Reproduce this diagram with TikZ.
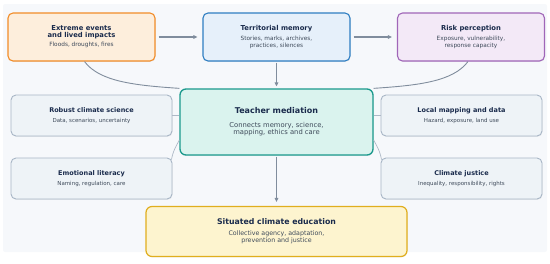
\documentclass[tikz,border=0pt]{standalone}
\usepackage{fontspec}
\setmainfont{DejaVu Sans}
\usepackage{tikz}
\usetikzlibrary{arrows.meta, shadows}

\definecolor{panel}{HTML}{F6F8FB}
\definecolor{titleink}{HTML}{1A2B4C}
\definecolor{subink}{HTML}{3E4A5A}
\definecolor{arrowink}{HTML}{808D9D}
\definecolor{faintink}{HTML}{AEB9C7}
\definecolor{orangeline}{HTML}{F28C28}
\definecolor{orangefill}{HTML}{FDEEDC}
\definecolor{blueline}{HTML}{2E7EC2}
\definecolor{bluefill}{HTML}{E6F0FA}
\definecolor{purpleline}{HTML}{A066B8}
\definecolor{purplefill}{HTML}{F3E9F7}
\definecolor{tealline}{HTML}{1A998C}
\definecolor{tealfill}{HTML}{DAF3EE}
\definecolor{grayline}{HTML}{A8B6C6}
\definecolor{grayfill}{HTML}{EEF3F7}
\definecolor{yellowline}{HTML}{E0AE1E}
\definecolor{yellowfill}{HTML}{FDF4CF}

\newcommand\hd[1]{{\fontsize{\hdsz}{\hdsz}\selectfont\bfseries\color{titleink}#1}}

\tikzset{
  card/.style={rounded corners=5pt, line width=1.1pt, inner sep=0pt, align=center,
    text=subink, drop shadow={shadow xshift=0.5pt, shadow yshift=-0.9pt, opacity=0.12}},
  topbox/.style={card, minimum width=147pt, minimum height=48pt,
    font=\fontsize{5.8}{6.4}\selectfont, execute at begin node=\def\hdsz{6.8}},
  sidebox/.style={card, draw=grayline, fill=grayfill, line width=0.9pt,
    minimum width=161pt, minimum height=41pt,
    font=\fontsize{5.5}{6.4}\selectfont, execute at begin node=\def\hdsz{6.5}},
  flow/.style={draw=arrowink, line width=1.1pt, -{Triangle[length=4pt,width=3.6pt]}},
  link/.style={draw=arrowink, line width=0.9pt},
  faint/.style={draw=faintink, line width=0.7pt}
}

\begin{document}
\begin{tikzpicture}[x=1pt, y=-1pt]
  \useasboundingbox (0,0) rectangle (550,263);
  \fill[panel, rounded corners=2pt] (3,4) rectangle (547,252);

  % top row: events, memory, perception
  \node[topbox, draw=orangeline, fill=orangefill] (extreme) at (81.5,37)
    {\hd{Extreme events}\\[0.8pt]\hd{and lived impacts}\\[2.6pt]Floods, droughts, fires};
  \node[topbox, draw=blueline, fill=bluefill] (memory) at (276.5,37)
    {\hd{Territorial memory}\\[3.6pt]Stories, marks, archives,\\practices, silences};
  \node[topbox, draw=purpleline, fill=purplefill] (risk) at (471,37)
    {\hd{Risk perception}\\[3.6pt]Exposure, vulnerability,\\response capacity};

  % centre
  \node[card, draw=tealline, fill=tealfill, line width=1.3pt, rounded corners=6pt,
    minimum width=193pt, minimum height=66pt,
    font=\fontsize{6.8}{7.6}\selectfont, execute at begin node=\def\hdsz{8}] (teacher) at (276.5,122)
    {\hd{Teacher mediation}\\[6pt]Connects memory, science,\\mapping, ethics and care};

  % side boxes
  \node[sidebox] (robust) at (91.5,115.5) {\hd{Robust climate science}\\[4.4pt]Data, scenarios, uncertainty};
  \node[sidebox] (emotional) at (91.5,178.5) {\hd{Emotional literacy}\\[4.4pt]Naming, regulation, care};
  \node[sidebox] (local) at (461.5,115.5) {\hd{Local mapping and data}\\[4.4pt]Hazard, exposure, land use};
  \node[sidebox] (justice) at (461.5,178.5) {\hd{Climate justice}\\[4.4pt]Inequality, responsibility, rights};

  % outcome
  \node[card, draw=yellowline, fill=yellowfill, line width=1.2pt, rounded corners=6pt,
    minimum width=261pt, minimum height=50pt,
    font=\fontsize{6.3}{7}\selectfont, execute at begin node=\def\hdsz{7.8}] (situated) at (276.5,231.5)
    {\hd{Situated climate education}\\[4pt]Collective agency, adaptation,\\prevention and justice};

  \draw[flow, shorten <=3pt, shorten >=5pt] (extreme) -- (memory);
  \draw[flow, shorten <=3pt, shorten >=5pt] (memory) -- (risk);
  \draw[flow, shorten <=1pt, shorten >=2pt] (memory) -- (teacher);
  \draw[flow, shorten <=1pt, shorten >=4pt] (teacher) -- (situated);

  \draw[link] ([xshift=3pt]extreme.south) .. controls +(15,20) and +(-45,-3) .. (teacher.north west);
  \draw[link] ([xshift=-3pt]risk.south) .. controls +(-15,20) and +(45,-3) .. (teacher.north east);

  \draw[faint] (robust.east) -- (robust.east -| teacher.west);
  \draw[faint] (local.west) -- (local.west -| teacher.east);
  \draw[faint] ([xshift=-1pt,yshift=-2pt]emotional.north east) .. controls +(2,-10) and +(-3,6) .. ([yshift=-18pt]teacher.west);
  \draw[faint] ([yshift=-18pt]teacher.east) .. controls +(3,6) and +(-2,-10) .. ([xshift=1pt,yshift=-2pt]justice.north west);
\end{tikzpicture}
\end{document}
